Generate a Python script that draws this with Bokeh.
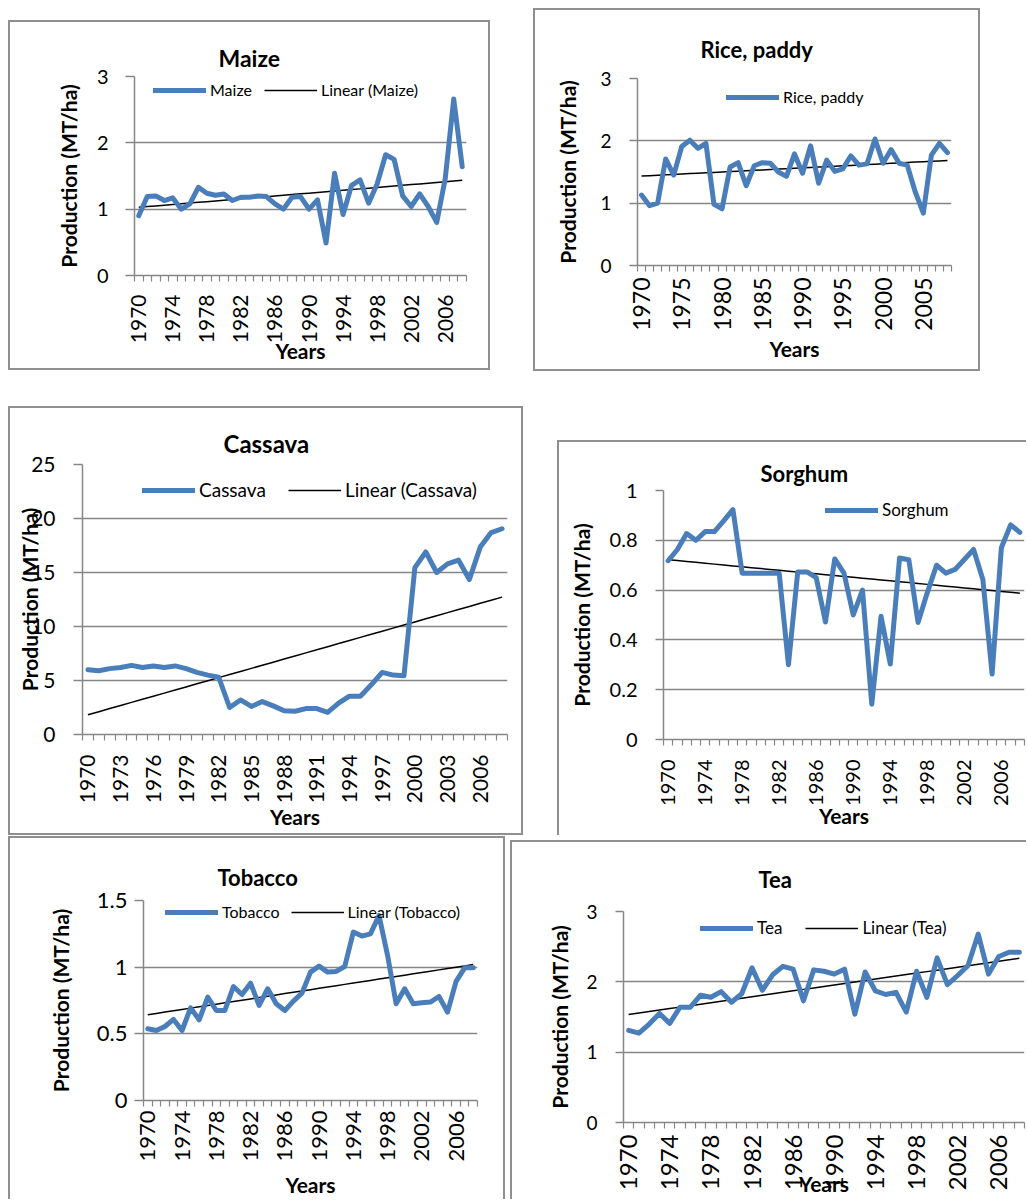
import numpy as np
from bokeh.plotting import figure
from bokeh.models import Range1d, FixedTicker, Legend, LegendItem, Spacer
from bokeh.layouts import row, column
from bokeh.embed import file_html
from bokeh.resources import INLINE

# ---------------- data ----------------
years = [1970, 1971, 1972, 1973, 1974, 1975, 1976, 1977, 1978, 1979,
         1980, 1981, 1982, 1983, 1984, 1985, 1986, 1987, 1988, 1989,
         1990, 1991, 1992, 1993, 1994, 1995, 1996, 1997, 1998, 1999,
         2000, 2001, 2002, 2003, 2004, 2005, 2006, 2007, 2008]

maize = [0.90, 1.19, 1.20, 1.13, 1.17, 1.00, 1.08, 1.33, 1.24, 1.21,
         1.23, 1.13, 1.18, 1.18, 1.20, 1.19, 1.08, 1.00, 1.18, 1.19,
         1.00, 1.14, 0.49, 1.54, 0.92, 1.36, 1.44, 1.09, 1.38, 1.82,
         1.75, 1.20, 1.04, 1.23, 1.04, 0.80, 1.46, 2.66, 1.64]

rice = [1.13, 0.96, 1.00, 1.71, 1.45, 1.91, 2.01, 1.88, 1.96, 0.98,
        0.91, 1.58, 1.65, 1.28, 1.60, 1.65, 1.64, 1.50, 1.43, 1.79,
        1.48, 1.92, 1.32, 1.69, 1.51, 1.55, 1.76, 1.61, 1.63, 2.03,
        1.64, 1.86, 1.64, 1.61, 1.18, 0.84, 1.77, 1.96, 1.81]

cassava = [6.0, 5.9, 6.1, 6.2, 6.4, 6.2, 6.35, 6.2, 6.35, 6.1,
           5.75, 5.5, 5.3, 2.5, 3.2, 2.6, 3.05, 2.65, 2.2, 2.15,
           2.4, 2.4, 2.05, 2.9, 3.55, 3.55, 4.6, 5.75, 5.5, 5.45,
           15.45, 16.9, 15.0, 15.8, 16.15, 14.35, 17.35, 18.7, 19.05]

sorghum = [0.718, 0.763, 0.827, 0.800, 0.835, 0.835, 0.878, 0.923, 0.668, 0.668,
           0.668, 0.668, 0.668, 0.300, 0.673, 0.673, 0.650, 0.472, 0.725, 0.668,
           0.500, 0.600, 0.142, 0.495, 0.303, 0.729, 0.722, 0.470, 0.590, 0.700,
           0.668, 0.683, 0.723, 0.763, 0.643, 0.263, 0.770, 0.862, 0.832]

tobacco = [0.538, 0.525, 0.555, 0.608, 0.525, 0.695, 0.605, 0.775, 0.675, 0.675,
           0.855, 0.795, 0.880, 0.713, 0.838, 0.725, 0.675, 0.745, 0.805, 0.963,
           1.008, 0.963, 0.968, 1.005, 1.263, 1.233, 1.250, 1.388, 1.088, 0.725,
           0.838, 0.725, 0.733, 0.738, 0.780, 0.663, 0.893, 0.995, 0.995]

tea = [1.31, 1.27, 1.40, 1.55, 1.41, 1.64, 1.64, 1.81, 1.78, 1.86,
       1.71, 1.83, 2.20, 1.88, 2.10, 2.22, 2.18, 1.73, 2.17, 2.15,
       2.11, 2.18, 1.54, 2.14, 1.87, 1.82, 1.85, 1.57, 2.15, 1.78,
       2.34, 1.96, 2.09, 2.23, 2.68, 2.11, 2.36, 2.42, 2.42]

# tick labels
years_step4 = [1970, 1974, 1978, 1982, 1986, 1990, 1994, 1998, 2002, 2006]
years_step5 = [1970, 1975, 1980, 1985, 1990, 1995, 2000, 2005]
years_step3 = [1970, 1973, 1976, 1979, 1982, 1985, 1988, 1991, 1994, 1997, 2000, 2003, 2006]

yt_0_3 = [0, 1, 2, 3]
yl_0_3 = ["0", "1", "2", "3"]
yt_cassava = [0, 5, 10, 15, 20, 25]
yl_cassava = ["0", "5", "10", "15", "20", "25"]
yt_sorghum = [0, 0.2, 0.4, 0.6, 0.8, 1]
yl_sorghum = ["0", "0.2", "0.4", "0.6", "0.8", "1"]
yt_tobacco = [0, 0.5, 1, 1.5]
yl_tobacco = ["0", "0.5", "1", "1.5"]

# ---------------- style ----------------
FONT = "Lato"
GRID = "#868686"
BLUE = "#4A7EBB"
BOX = "#8f8f8f"


def box_style(sides):
    parts = []
    if "l" in sides:
        parts.append(f"inset 2px 0 0 0 {BOX}")
    if "t" in sides:
        parts.append(f"inset 0 2px 0 0 {BOX}")
    if "r" in sides:
        parts.append(f"inset -2px 0 0 0 {BOX}")
    if "b" in sides:
        parts.append(f"inset 0 -2px 0 0 {BOX}")
    return {"box-shadow": ", ".join(parts)}


def make_panel(name, title, values, label_years, y_ticks, y_labels, y_max,
               show_trend, g):
    w, h, ml, mr, mt, mb = g["size"]
    p = figure(width=w, height=h, output_backend="svg", toolbar_location=None,
               tools="", x_range=Range1d(1969.5, 2008.5),
               y_range=Range1d(0, y_max),
               min_border_left=ml, min_border_right=mr,
               min_border_top=mt, min_border_bottom=mb)
    p.border_fill_color = None
    p.background_fill_color = "white"
    p.outline_line_color = None
    p.styles = box_style(g["sides"])

    # title
    p.title.text = title
    p.title.align = "left"
    p.title.text_font = FONT
    p.title.text_font_style = "bold"
    p.title.text_font_size = f"{g['title_fs']}px"
    p.title.text_color = "black"
    p.title.offset = g["title_off"]
    p.title.standoff = g["title_standoff"]

    # grid
    p.xgrid.visible = False
    p.ygrid.ticker = FixedTicker(ticks=y_ticks)
    p.ygrid.grid_line_color = GRID
    p.ygrid.grid_line_width = 1.5

    # x axis (category-like)
    xa = p.xaxis[0]
    xa.ticker = FixedTicker(ticks=label_years,
                            minor_ticks=[y - 0.5 for y in years] + [years[-1] + 0.5])
    xa.axis_line_color = GRID
    xa.axis_line_width = 1.5
    xa.major_tick_line_color = None
    xa.major_tick_out = 0
    xa.major_tick_in = 0
    xa.minor_tick_line_color = GRID
    xa.minor_tick_line_width = 1.2
    xa.minor_tick_out = 6
    xa.minor_tick_in = 0
    xa.major_label_orientation = np.pi / 2
    xa.major_label_standoff = g["xl_standoff"]
    xa.major_label_text_font = FONT
    xa.major_label_text_font_size = f"{g['xt_fs']}px"
    xa.major_label_text_color = "black"
    xa.axis_label = "Years"
    xa.axis_label_text_font = FONT
    xa.axis_label_text_font_style = "bold"
    xa.axis_label_text_font_size = f"{g['al_fs']}px"
    xa.axis_label_text_color = "black"
    xa.axis_label_standoff = g["xa_standoff"]

    # y axis
    ya = p.yaxis[0]
    ya.ticker = FixedTicker(ticks=y_ticks)
    ya.major_label_overrides = dict(zip(y_ticks, y_labels))
    ya.axis_line_color = GRID
    ya.axis_line_width = 1.5
    ya.major_tick_line_color = GRID
    ya.major_tick_line_width = 1.5
    ya.major_tick_out = g["yt_out"]
    ya.major_tick_in = 0
    ya.minor_tick_line_color = None
    ya.major_label_standoff = g["yl_standoff"]
    ya.major_label_text_font = FONT
    ya.major_label_text_font_size = f"{g['yt_fs']}px"
    ya.major_label_text_color = "black"
    ya.axis_label = "Production (MT/ha)"
    ya.axis_label_text_font = FONT
    ya.axis_label_text_font_style = "bold"
    ya.axis_label_text_font_size = f"{g['al_fs']}px"
    ya.axis_label_text_color = "black"
    ya.axis_label_standoff = g["ya_standoff"]

    # data
    coef = np.polyfit(years, values, 1)
    trend = np.polyval(coef, years)
    r_trend = p.line(years, trend, line_color="black", line_width=1.5)
    r_main = p.line(years, values, line_color=BLUE, line_width=5,
                    line_join="round", line_cap="round")

    items = [LegendItem(label=name, renderers=[r_main])]
    if show_trend:
        items.append(LegendItem(label=f"Linear ({name})", renderers=[r_trend]))
    frame_h = h - mt - mb
    lx, ly = g["legend"]
    leg = Legend(items=items, orientation="horizontal",
                 location=(lx, frame_h - ly - 9),
                 glyph_width=53, glyph_height=14, label_height=14,
                 padding=0, margin=0, spacing=g["leg_spacing"],
                 label_standoff=4, border_line_color=None,
                 background_fill_alpha=0,
                 label_text_font=FONT,
                 label_text_font_size=f"{g['leg_fs']}px",
                 label_text_color="black")
    p.add_layout(leg)
    return p


p_maize = make_panel("Maize", "Maize", maize, years_step4, yt_0_3, yl_0_3, 3, True,
                     dict(size=(482, 350, 126, 24, 56, 95), sides="ltrb",
                          title_fs=23, title_off=84, title_standoff=9,
                          xl_standoff=13, xt_fs=21, al_fs=21, xa_standoff=-8,
                          yt_out=9, yl_standoff=17, yt_fs=20, ya_standoff=13,
                          legend=(19, 14), leg_spacing=12, leg_fs=16))

p_rice = make_panel("Rice, paddy", "Rice, paddy", rice, years_step5, yt_0_3, yl_0_3, 3, False,
                    dict(size=(447, 363, 104, 29, 70, 106), sides="ltrb",
                         title_fs=22, title_off=63, title_standoff=32,
                         xl_standoff=6, xt_fs=23, al_fs=21, xa_standoff=2,
                         yt_out=8, yl_standoff=18, yt_fs=19, ya_standoff=17,
                         legend=(89, 19), leg_spacing=12, leg_fs=16))

p_cassava = make_panel("Cassava", "Cassava", cassava, years_step3, yt_cassava, yl_cassava, 25, True,
                       dict(size=(515, 429, 74, 16, 58, 101), sides="ltrb",
                            title_fs=24, title_off=141, title_standoff=13,
                            xl_standoff=14, xt_fs=21, al_fs=21, xa_standoff=-2,
                            yt_out=9, yl_standoff=18, yt_fs=21, ya_standoff=-14,
                            legend=(60, 28), leg_spacing=22, leg_fs=19))

p_sorghum = make_panel("Sorghum", "Sorghum", sorghum, years_step4, yt_sorghum, yl_sorghum, 1, False,
                       dict(size=(469, 395, 106, 2, 50, 96), sides="lt",
                            title_fs=22, title_off=97, title_standoff=8,
                            xl_standoff=14, xt_fs=20, al_fs=21, xa_standoff=-6,
                            yt_out=8, yl_standoff=18, yt_fs=20, ya_standoff=13,
                            legend=(162, 21), leg_spacing=12, leg_fs=17))

p_tobacco = make_panel("Tobacco", "Tobacco", tobacco, years_step4, yt_tobacco, yl_tobacco, 1.5, True,
                       dict(size=(497, 363, 135, 28, 64, 99), sides="ltr",
                            title_fs=22, title_off=74, title_standoff=20,
                            xl_standoff=4, xt_fs=22, al_fs=21, xa_standoff=7,
                            yt_out=9, yl_standoff=7, yt_fs=22, ya_standoff=21,
                            legend=(22, 12), leg_spacing=11, leg_fs=16))

p_tea = make_panel("Tea", "Tea", tea, years_step4, yt_0_3, yl_0_3, 3, True,
                   dict(size=(516, 359, 113, 2, 71, 77), sides="lt",
                        title_fs=22, title_off=135, title_standoff=38,
                        xl_standoff=6, xt_fs=24, al_fs=21, xa_standoff=-22,
                        yt_out=8, yl_standoff=18, yt_fs=19, ya_standoff=11,
                        legend=(77, 18), leg_spacing=23, leg_fs=17))

r1 = row(column(Spacer(width=482, height=12), p_maize),
         Spacer(width=43, height=10), p_rice)
r2 = row(p_cassava, Spacer(width=34, height=10),
         column(Spacer(width=469, height=34), p_sorghum))
r3 = row(column(Spacer(width=497, height=1), p_tobacco),
         Spacer(width=5, height=10),
         column(Spacer(width=516, height=5), p_tea))
inner = column(Spacer(width=10, height=8), r1, Spacer(width=10, height=35), r2, r3)
layout = row(Spacer(width=8, height=10), inner)

open("out.html", "w").write(file_html(layout, INLINE))
